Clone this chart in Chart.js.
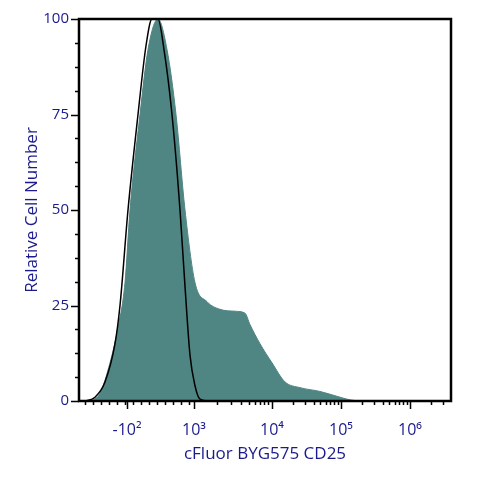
<!DOCTYPE html>
<html lang="en">
<head>
<meta charset="UTF-8">
<title>CD25 histogram</title>
<style>
  body { margin: 0; background: #fff; }
  #wrap { width: 480px; height: 480px; }
</style>
<script src="https://cdn.jsdelivr.net/npm/chart.js"></script>
</head>
<body>
<div id="wrap"><canvas id="histo"></canvas></div>
<script>
// display channel (biexponential scale, 0..372)
const stainedX = [13, 21, 31, 38, 46, 51, 61, 69, 79, 88, 97, 106, 116, 128, 141, 156, 166, 171, 181, 193, 206, 221, 241, 261, 271, 281];
const stainedY = [0, 2, 10, 18, 31, 50, 75, 92, 100, 92, 75, 50, 31, 26, 24, 23.5, 23, 20, 15, 10, 5, 3.5, 2.5, 1, 0.3, 0];
const controlX = [6, 16, 26, 36, 41, 49, 59, 67, 73, 79, 85, 93, 101, 106, 111, 116, 121, 131];
const controlY = [0, 1, 5, 15, 25, 50, 75, 93, 100, 100, 92, 75, 50, 30, 12, 4, 0.5, 0];
const decadePos = { 3: 115, 4: 193, 5: 262, 6: 331 };
const majorX = [48, 115, 193, 262, 331];
const majorXLabels = ['-10²', '10³', '10⁴', '10⁵', '10⁶'];
const yTicks = [0, 25, 50, 75, 100];

const navy = '#1a1a8c';
const minorX = [];
for (let c = 6; c < 115; c += 8) minorX.push(c);
for (let d = 3; d <= 6; d++) {
  const w = d === 3 ? 78 : 69;
  for (let k = 2; k <= 9; k++) {
    const p = decadePos[d] + w * Math.log10(k);
    if (p < 372) minorX.push(p);
  }
}

const ticksPlugin = {
  id: 'ticksPlugin',
  afterDraw(chart) {
    const { ctx, chartArea: a, scales: { x, y } } = chart;
    ctx.save();
    ctx.strokeStyle = '#000';
    ctx.lineWidth = 1.5;
    ctx.beginPath();
    minorX.forEach(v => {
      const px = Math.round(x.getPixelForValue(v)) + 0.5;
      ctx.moveTo(px, a.bottom); ctx.lineTo(px, a.bottom + 4);
    });
    majorX.forEach(v => {
      const px = Math.round(x.getPixelForValue(v)) + 0.5;
      ctx.moveTo(px, a.bottom); ctx.lineTo(px, a.bottom + 8);
    });
    for (let v = 0; v <= 100; v += 6.25) {
      const py = Math.round(y.getPixelForValue(v)) + 0.5;
      const len = v % 25 === 0 ? 8 : 4;
      ctx.moveTo(a.left, py); ctx.lineTo(a.left - len, py);
    }
    ctx.stroke();
    ctx.lineWidth = 2.5;
    ctx.strokeRect(a.left, a.top, a.right - a.left, a.bottom - a.top);
    ctx.restore();
  }
};

new Chart(document.getElementById('histo'), {
  type: 'line',
  data: {
    datasets: [
      {
        label: 'Control',
        data: controlX.map((v, i) => ({ x: v, y: controlY[i] })),
        borderColor: '#000',
        borderWidth: 1.5,
        fill: false,
        pointRadius: 0,
        cubicInterpolationMode: 'monotone'
      },
      {
        label: 'CD25',
        data: stainedX.map((v, i) => ({ x: v, y: stainedY[i] })),
        borderColor: '#4f8582',
        backgroundColor: '#4f8582',
        borderWidth: 1,
        fill: 'origin',
        pointRadius: 0,
        cubicInterpolationMode: 'monotone'
      }
    ]
  },
  options: {
    responsive: true,
    maintainAspectRatio: false,
    animation: false,
    layout: { padding: { top: 19, right: 29, left: 18, bottom: 12 } },
    plugins: { legend: { display: false }, tooltip: { enabled: false } },
    scales: {
      x: {
        type: 'linear', min: 0, max: 372,
        afterBuildTicks: s => { s.ticks = majorX.map(v => ({ value: v })); },
        afterFit: s => { s.height = 67; },
        grid: { display: false, drawTicks: false },
        border: { display: false },
        ticks: {
          color: navy, padding: 20,
          font: { family: 'Open Sans', size: 16 },
          callback: (v, i) => majorXLabels[i]
        },
        title: {
          display: true, text: 'cFluor BYG575 CD25', color: navy,
          font: { family: 'Open Sans', size: 17 }, padding: { top: 0 }
        }
      },
      y: {
        type: 'linear', min: 0, max: 100,
        afterBuildTicks: s => { s.ticks = yTicks.map(v => ({ value: v })); },
        afterFit: s => { s.width = 61; },
        grid: { display: false, drawTicks: false },
        border: { display: false },
        ticks: { color: navy, padding: 10, font: { family: 'Open Sans', size: 15 } },
        title: {
          display: true, text: 'Relative Cell Number', color: navy,
          font: { family: 'Open Sans', size: 17 }, padding: { bottom: 4 }
        }
      }
    }
  },
  plugins: [ticksPlugin]
});
</script>
</body>
</html>
